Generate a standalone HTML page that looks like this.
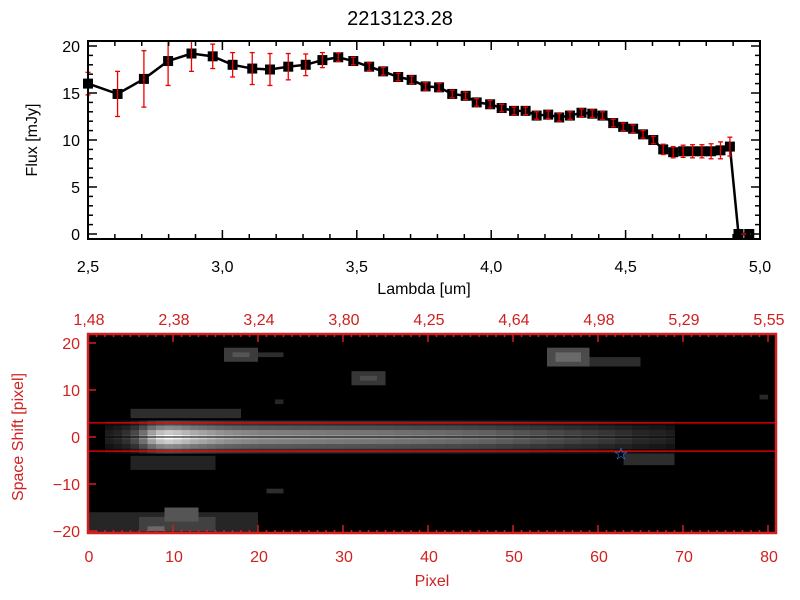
<!DOCTYPE html>
<html><head><meta charset="utf-8"><style>
html,body{margin:0;padding:0;background:#fff}
svg{display:block;font-family:"Liberation Sans",sans-serif}
</style></head><body>
<svg id="c" width="800" height="600" viewBox="0 0 800 600" xmlns="http://www.w3.org/2000/svg">
<defs><clipPath id="imgclip"><rect x="88" y="334" width="688" height="199"/></clipPath></defs>
<text x="400" y="25" font-size="20" text-anchor="middle">2213123.28</text>
<g id="topPanel"></g>
<g id="imgPanel" clip-path="url(#imgclip)"></g>
<g id="botPanel"></g>
</svg>
<script>
const lambdas=[2.5,2.61,2.708,2.798,2.885,2.964,3.038,3.111,3.177,3.245,3.31,3.372,3.431,3.487,3.546,3.598,3.654,3.704,3.756,3.806,3.855,3.905,3.946,3.996,4.039,4.085,4.128,4.169,4.212,4.253,4.293,4.336,4.376,4.414,4.454,4.491,4.528,4.565,4.603,4.64,4.677,4.714,4.749,4.784,4.818,4.853,4.888];
const flux=[16.0,14.9,16.5,18.4,19.2,18.9,18.0,17.6,17.5,17.8,18.0,18.5,18.8,18.4,17.8,17.3,16.7,16.4,15.7,15.6,14.9,14.7,14.0,13.8,13.4,13.1,13.1,12.6,12.7,12.4,12.6,12.9,12.8,12.6,11.8,11.4,11.2,10.6,10.0,9.0,8.7,8.8,8.8,8.8,8.8,8.9,9.3];
const fluxErr=[1.2,2.4,3.0,2.6,1.9,1.3,1.3,1.7,1.7,1.4,1.15,0.8,0.45,0.4,0.4,0.4,0.4,0.4,0.4,0.4,0.4,0.4,0.4,0.4,0.4,0.4,0.4,0.4,0.4,0.4,0.4,0.4,0.4,0.4,0.4,0.4,0.4,0.4,0.4,0.55,0.6,0.65,0.7,0.7,0.8,0.9,1.0];
const zeroTail=[[4.92,0],[4.96,0]];
const xTicks=[2.5,3.0,3.5,4.0,4.5,5.0];
const yTicks=[0,5,10,15,20];
const pixTicks=[0,10,20,30,40,50,60,70,80];
const lamTickLabels=["1.48","2.38","3.24","3.80","4.25","4.64","4.98","5.29","5.55"];
const shiftTicks=[-20,-10,0,10,20];
const traceCols=[2,3,4,5,6,7,8,9,10,11,12,13,14,15,16,17,18,19,20,22,24,26,28,30,32,34,36,38,40,42,44,46,48,50,52,54,56,58,60,62,64,66,68];
const traceAmp=[35,45,60,90,140,200,240,255,245,230,215,205,195,185,178,172,168,165,160,158,155,152,150,148,146,144,140,137,134,130,125,120,112,105,98,90,82,75,68,58,48,42,35];
const blobs=[[16,20,16,19,60],[17,19,17,18,85],[20,23,17,18,45],[31,35,11,14,55],[32,34,12,13,75],[54,59,15,19,75],[55,58,16,18,105],[59,65,15,17,45],[0,20,-21,-16,38],[6,15,-20,-17,65],[9,13,-18,-15,85],[7,9,-20,-19,105],[21,23,-12,-11,45],[22,23,7,8,38],[63,69,-6,-1,45],[5,15,-7,-4,35],[5,18,4,6,45],[79,80,8,9,40],[4,6,-2,2,40]];

const NS="http://www.w3.org/2000/svg";
function mk(p,t,a){const e=document.createElementNS(NS,t);for(const k in a)e.setAttribute(k,a[k]);p.appendChild(e);return e;}
const topG=document.getElementById('topPanel');
const X=l=>88+(l-2.5)*268.8, Y=f=>234-9.4*f;
let pts=lambdas.map((l,i)=>X(l)+','+Y(flux[i])).join(' ')+' '+zeroTail.map(p=>X(p[0])+','+Y(p[1])).join(' ');
let ln=mk(topG,'polyline',{points:pts,fill:'none',stroke:'#000','stroke-width':2.5});


lambdas.forEach((l,i)=>{
  let m=mk(topG,'rect',{x:X(l)-5,y:Y(flux[i])-5,width:10,height:10,fill:'#000'});
  
  
});
zeroTail.forEach(p=>{let m=mk(topG,'rect',{x:X(p[0])-5,y:Y(p[1])-5,width:10,height:10,fill:'#000'});
  
  });
lambdas.forEach((l,i)=>{
  const x=X(l),y1=Math.max(41,Y(flux[i]+fluxErr[i])),y2=Y(flux[i]-fluxErr[i]);
  let g=mk(topG,'g',{stroke:'#e00','stroke-width':1.3});
  
  
  mk(g,'line',{x1:x,y1:y1,x2:x,y2:y2});
  mk(g,'line',{x1:x-2.5,y1:y1,x2:x+2.5,y2:y1});
  mk(g,'line',{x1:x-2.5,y1:y2,x2:x+2.5,y2:y2});
});
let dz=mk(topG,'line',{x1:X(4.93),y1:Y(0),x2:X(5.0),y2:Y(0),stroke:'#e00','stroke-width':1.3,'stroke-dasharray':'5,4'});


let fr=mk(topG,'rect',{x:88,y:41,width:672,height:198,fill:'none',stroke:'#000','stroke-width':2});


for(let v=2.5;v<=5.0001;v+=0.1){const x=X(v),maj=Math.abs(v*2-Math.round(v*2))<1e-6,L=maj?9:5;
  mk(topG,'line',{x1:x,y1:239,x2:x,y2:239-L,stroke:'#000','stroke-width':1.5});
  mk(topG,'line',{x1:x,y1:41,x2:x,y2:41+L,stroke:'#000','stroke-width':1.5});}
for(let v=0;v<=20;v++){const y=Y(v),L=v%5==0?9:5;
  mk(topG,'line',{x1:88,y1:y,x2:88+L,y2:y,stroke:'#000','stroke-width':1.5});
  mk(topG,'line',{x1:760,y1:y,x2:760-L,y2:y,stroke:'#000','stroke-width':1.5});}
xTicks.forEach(v=>{let t=mk(topG,'text',{x:X(v),y:272,'font-size':16,'text-anchor':'middle'});t.textContent=v.toFixed(1).replace('.',',');
  
  });
yTicks.forEach(v=>{let t=mk(topG,'text',{x:80,y:Y(v)+6,'font-size':16,'text-anchor':'end'});t.textContent=v;
  
  });
let xt=mk(topG,'text',{x:424,y:294,'font-size':16,'text-anchor':'middle'});xt.textContent='Lambda [um]';


let yt=mk(topG,'text',{x:0,y:0,'font-size':16,'text-anchor':'middle',transform:'translate(37,140) rotate(-90)'});yt.textContent='Flux [mJy]';


const imgG=document.getElementById('imgPanel');
const botG=document.getElementById('botPanel');
const PX=p=>88+p*8.5, SY=s=>437-s*4.7;
const RED='#d02020';
let bg=mk(imgG,'rect',{x:88,y:334,width:688,height:199,fill:'#000'});


const gray=v=>{v=Math.max(0,Math.min(255,Math.round(v)));return `rgb(${v},${v},${v})`;};
blobs.forEach(b=>{let r=mk(imgG,'rect',{x:PX(b[0]),y:SY(b[3]),width:PX(b[1])-PX(b[0]),height:SY(b[2])-SY(b[3]),fill:gray(b[4])});
  
  });
const prof=[0.3,0.55,0.8,1,0.8,0.55,0.3];
traceCols.forEach((c,i)=>{
  const w=(i+1<traceCols.length?traceCols[i+1]:c+1)-c;
  prof.forEach((f,k)=>{const s=k-3;
    let r=mk(imgG,'rect',{x:PX(c),y:SY(s+0.5),width:w*8.5+0.5,height:4.8,fill:gray(traceAmp[i]*f)});
    
    
  });
});
[3,-3].forEach(s=>{let l=mk(botG,'line',{x1:88,y1:SY(s),x2:776,y2:SY(s),stroke:'#f00','stroke-width':1.3});
  
  });
let cl=mk(botG,'line',{x1:88,y1:SY(0),x2:776,y2:SY(0),stroke:'#000','stroke-width':1});


let st=mk(botG,'text',{x:PX(62.7),y:SY(-3.5)+6,'font-size':17,'text-anchor':'middle',fill:'#3090ff'});st.textContent='☆';


let bf=mk(botG,'rect',{x:88,y:334,width:688,height:199,fill:'none',stroke:RED,'stroke-width':2.5});


for(let p=0;p<=80;p++){const x=PX(p),L=p%10==0?8:3;
  mk(botG,'line',{x1:x,y1:533,x2:x,y2:533-L,stroke:RED,'stroke-width':1.5});
  mk(botG,'line',{x1:x,y1:334,x2:x,y2:334+L,stroke:RED,'stroke-width':1.5});}
shiftTicks.forEach(s=>mk(botG,'line',{x1:88,y1:SY(s),x2:96,y2:SY(s),stroke:RED,'stroke-width':1.5}));
pixTicks.forEach((p,i)=>{
  let t=mk(botG,'text',{x:PX(p)+1,y:562,'font-size':16,'text-anchor':'middle',fill:RED});t.textContent=p;
  
  
  let u=mk(botG,'text',{x:PX(p)+1,y:325,'font-size':16,'text-anchor':'middle',fill:RED});u.textContent=lamTickLabels[i].replace('.',',');
  
  
});
shiftTicks.forEach(s=>{let t=mk(botG,'text',{x:80,y:SY(s)+6,'font-size':16,'text-anchor':'end',fill:RED});t.textContent=s<0?'−'+(-s):s;
  
  });
let pt=mk(botG,'text',{x:432,y:586,'font-size':16,'text-anchor':'middle',fill:RED});pt.textContent='Pixel';


let sh=mk(botG,'text',{x:0,y:0,'font-size':16,'text-anchor':'middle',fill:RED,transform:'translate(23,437) rotate(-90)'});sh.textContent='Space Shift [pixel]';


</script>
</body></html>
